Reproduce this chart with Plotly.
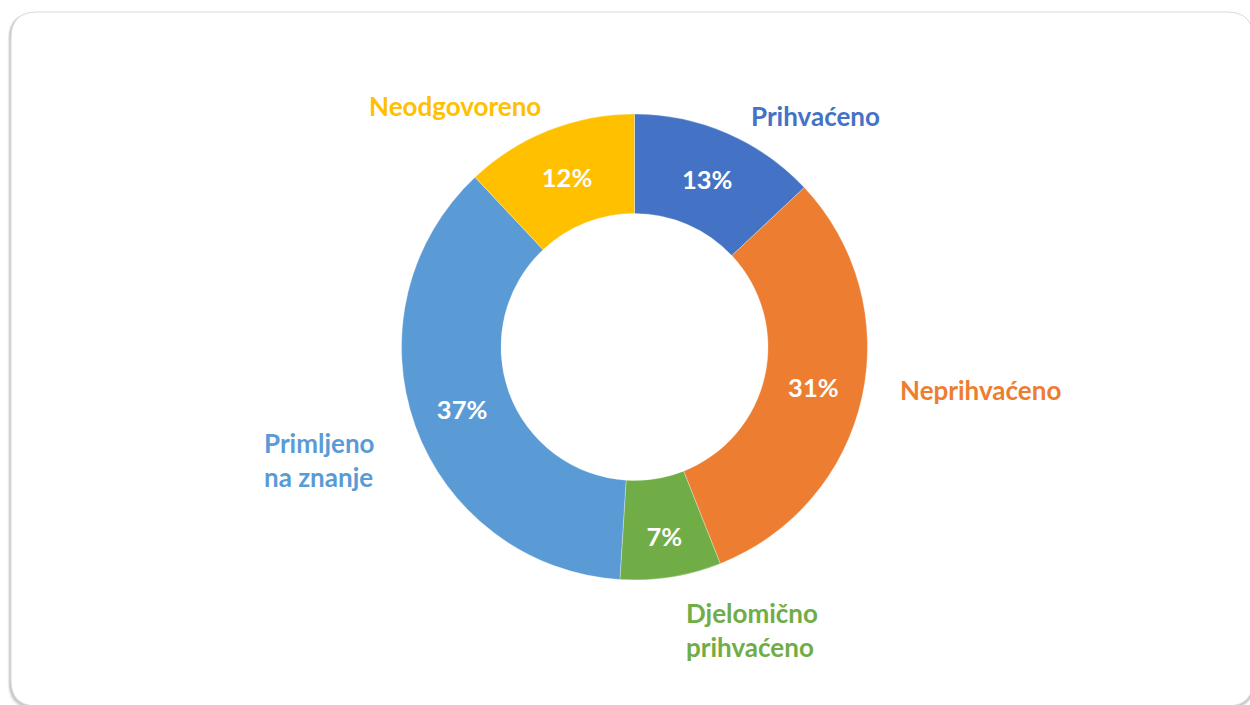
import plotly.graph_objects as go

# ---- data ----
categories = ["Prihvaćeno", "Neprihvaćeno", "Djelomično prihvaćeno",
              "Primljeno na znanje", "Neodgovoreno"]
values = [13, 31, 7, 37, 12]
label_texts = ["Prihvaćeno", "Neprihvaćeno", "Djelomično<br>prihvaćeno",
               "Primljeno<br>na znanje", "Neodgovoreno"]

# ---- styles ----
colors = ["#4472C4", "#ED7D31", "#70AD47", "#5B9BD5", "#FFC000"]
label_pos = [(815, 116), (980, 390), (752, 630), (319, 460), (455, 106)]  # px

W, H = 1250, 705
cx, cy, R = 634.5, 347, 233

fig = go.Figure()
fig.add_trace(go.Pie(
    labels=categories,
    values=values,
    sort=False,
    direction="clockwise",
    rotation=0,
    hole=0.573,
    marker=dict(colors=colors, line=dict(color="white", width=0.3)),
    textinfo="percent",
    texttemplate="%{percent:.0%}",
    textposition="inside",
    insidetextorientation="horizontal",
    textfont=dict(family="Lato", size=25.5, color="white", weight="bold"),
    domain=dict(x=[(cx - R) / W, (cx + R) / W],
                y=[(H - cy - R) / H, (H - cy + R) / H]),
    hoverinfo="skip",
    showlegend=False,
    automargin=False,
))

for txt, col, (px, py) in zip(label_texts, colors, label_pos):
    fig.add_annotation(
        x=px / W, y=1 - py / H, xref="paper", yref="paper",
        text=f"<b>{txt}</b>", showarrow=False, align="left",
        font=dict(family="Lato", size=26, color=col),
        xanchor="center", yanchor="middle",
    )

def rounded_rect(x0, y0, x1, y1, r):
    def X(v): return v / W
    def Y(v): return 1 - v / H
    return (f"M {X(x0 + r)},{Y(y0)} L {X(x1 - r)},{Y(y0)} "
            f"Q {X(x1)},{Y(y0)} {X(x1)},{Y(y0 + r)} "
            f"L {X(x1)},{Y(y1 - r)} Q {X(x1)},{Y(y1)} {X(x1 - r)},{Y(y1)} "
            f"L {X(x0 + r)},{Y(y1)} Q {X(x0)},{Y(y1)} {X(x0)},{Y(y1 - r)} "
            f"L {X(x0)},{Y(y0 + r)} Q {X(x0)},{Y(y0)} {X(x0 + r)},{Y(y0)} Z")

shapes = []
for i, op in enumerate([0.04, 0.07, 0.10]):
    d = 3 - i
    shapes.append(dict(type="path", xref="paper", yref="paper", layer="below",
                       path=rounded_rect(10 - d * 0.8, 13, 1254, 707 + d, 26),
                       fillcolor=f"rgba(0,0,0,{op})", line=dict(width=0)))
shapes.append(dict(type="path", xref="paper", yref="paper", layer="below",
                   path=rounded_rect(11, 12, 1253, 706, 26),
                   fillcolor="white", line=dict(color="#D9D9D9", width=1)))

fig.update_layout(
    width=W, height=H,
    margin=dict(l=0, r=0, t=0, b=0),
    paper_bgcolor="white",
    plot_bgcolor="white",
    shapes=shapes,
)

fig.write_html("out.html",
               config={"displayModeBar": False, "staticPlot": True},
               post_script="document.body.style.margin='0';"
                           "document.body.style.overflow='hidden';")
